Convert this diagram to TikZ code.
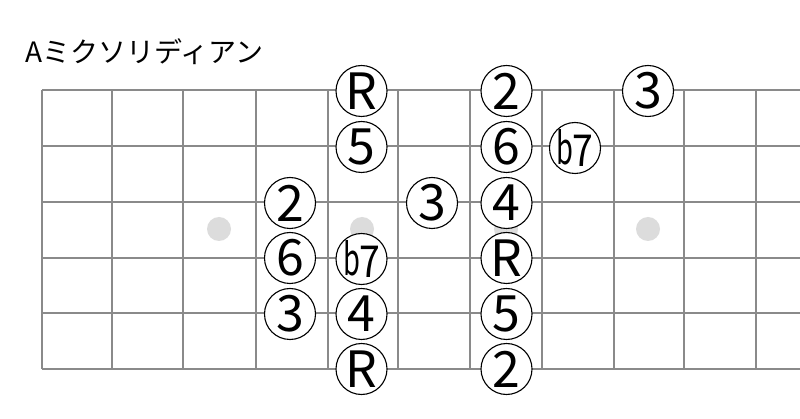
\documentclass[tikz,border=0pt]{standalone}
\usepackage{fontspec}
\setmainfont{Noto Sans CJK JP}
\definecolor{gridgray}{RGB}{138,138,138}
\definecolor{dotgray}{RGB}{220,220,220}
\newcommand{\flatseven}{\makebox[34pt]{\scalebox{0.62}[1]{b}\kern-1pt\raisebox{-2pt}{\scalebox{0.85}[1]{7}}}}
\begin{document}
\begin{tikzpicture}[x=1pt,y=-1pt,
  gridline/.style={draw=gridgray,line width=1.8pt},
  note/.style={circle,draw=black,fill=white,line width=1.1pt,minimum size=51pt,inner sep=0pt,font=\fontsize{50}{50}\selectfont},
  flatnote/.style={note,font=\fontsize{44}{44}\selectfont},
  posdot/.style={circle,fill=dotgray,minimum size=24pt,inner sep=0pt},
  title/.style={anchor=base west,inner sep=0pt,font=\fontsize{28}{28}\selectfont}]
\useasboundingbox (0,0) rectangle (800,419);
\fill[white] (0,0) rectangle (800,419);
\node[title] (ttl) at (25,63) {Aミクソリディアン};
% position markers
\node[posdot] (d3) at (219,229) {};
\node[posdot] (d5) at (362,229) {};
\node[posdot] (d7) at (506,229) {};
\node[posdot] (d9) at (648,229) {};
% strings
\foreach \y in {90,146,202,258,313,369} \draw[gridline] (42,\y) -- (800,\y);
% frets
\foreach \x in {42,112,183,256,328,398,470,542,614,684,756} \draw[gridline] (\x,90) -- (\x,369);
% string 1
\node[note] (s1a) at (361.5,91) {R};
\node[note] (s1b) at (506.5,91) {2};
\node[note] (s1c) at (648,91) {3};
% string 2
\node[note] (s2a) at (361.5,147) {5};
\node[note] (s2b) at (506.5,147) {6};
\node[flatnote] (s2c) at (575,148) {\flatseven};
% string 3
\node[note] (s3a) at (290,203) {2};
\node[note] (s3b) at (432,203) {3};
\node[note] (s3c) at (506.5,203) {4};
% string 4
\node[note] (s4a) at (290,258) {6};
\node[flatnote] (s4b) at (361.5,259) {\flatseven};
\node[note] (s4c) at (506.5,258) {R};
% string 5
\node[note] (s5a) at (290,314) {3};
\node[note] (s5b) at (361.5,314) {4};
\node[note] (s5c) at (506.5,314) {5};
% string 6
\node[note] (s6a) at (361.5,369) {R};
\node[note] (s6b) at (506.5,369) {2};
\end{tikzpicture}
\end{document}
